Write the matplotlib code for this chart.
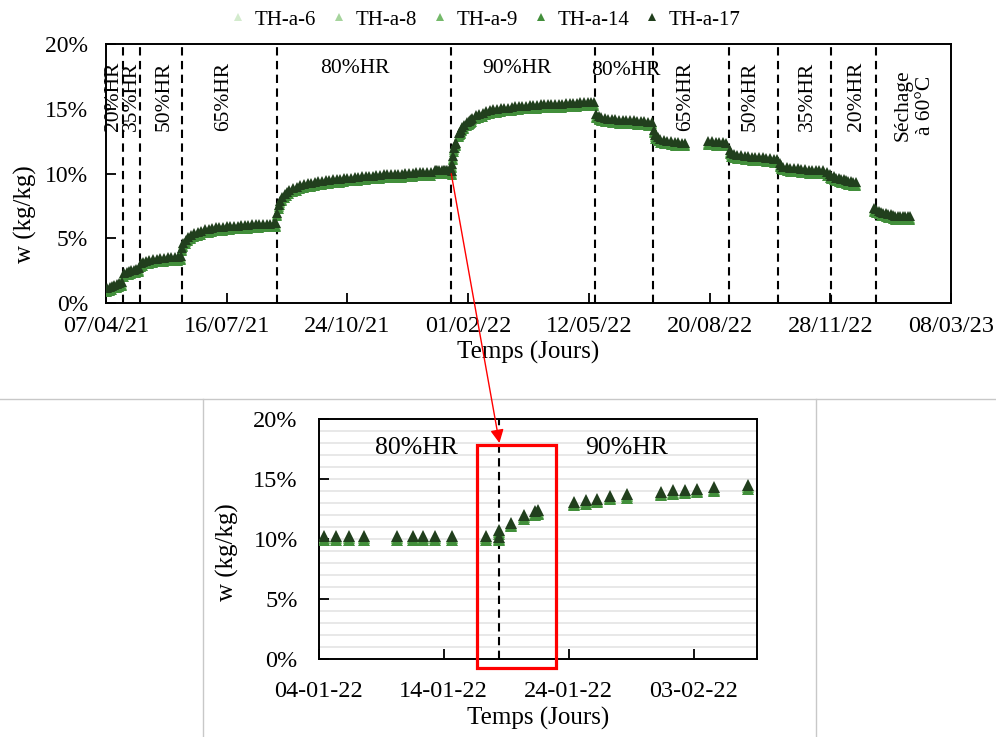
import matplotlib
matplotlib.use("Agg")
import matplotlib.pyplot as plt
import matplotlib.dates as mdates
from matplotlib.patches import Rectangle, ConnectionPatch
from matplotlib.lines import Line2D
from matplotlib.ticker import FixedLocator, MultipleLocator
import numpy as np
import pandas as pd

plt.rcParams['font.family'] = ['Liberation Serif', 'DejaVu Serif']

debut = pd.Timestamp("2021-04-07")

# jours depuis le 07/04/21 et teneur en eau w (%) lue pour TH-a-17
jours = [1, 3, 5, 7, 9, 11, 13,
         15, 17, 19, 21, 23, 25, 27,
         29, 31, 33, 36, 39, 42, 45, 48, 51, 54, 57, 60, 62,
         63, 64, 66, 68, 70, 73, 76, 79, 82, 85, 88, 91, 94, 97, 100, 103, 106, 109,
         112, 115, 118, 121, 124, 127, 130, 133, 136, 139, 141,
         142, 143, 144, 146, 148, 150, 152, 155, 158, 161, 164, 167, 170, 173, 176, 179,
         182, 185, 188, 191, 194, 197, 200, 203, 206, 209, 212, 215, 218, 221, 224, 227,
         230, 233, 236, 239, 242, 245, 248, 251, 254, 257, 260, 263, 266, 269,
         272.4, 273.4, 274.4, 275.6, 278.3, 279.6, 280.3, 281.3, 282.7, 285.4, 286.5,
         286.5, 287.4, 288.4, 289.3, 289.6, 292.4, 293.4, 294.3, 295.3, 296.7, 299.4, 300.3,
         301.3, 302.3, 303.6, 306.4, 309, 312, 315, 318, 321, 324, 327, 330, 333, 336, 339,
         342, 345, 348, 351, 354, 357, 360, 363, 366, 369, 372, 375, 378, 381, 384, 387,
         390, 393, 396, 399, 402, 404,
         406, 408, 410, 413, 416, 419, 422, 425, 428, 431, 434, 437, 440, 443, 446, 449, 452,
         454, 455, 457, 459, 462, 465, 468, 471, 474, 477, 480,
         499, 502, 505, 508, 511, 514,
         517, 518, 520, 523, 526, 529, 532, 535, 538, 541, 544, 547, 550, 553, 556,
         558, 559, 561, 564, 567, 570, 573, 576, 579, 582, 585, 588, 591, 594, 597, 600,
         601, 603, 605, 607, 609, 611, 613, 615, 617, 619, 621,
         636, 638, 640, 642, 644, 646, 648, 650, 652, 654, 656, 658, 660, 662, 664, 666]
w_17 = [1.15, 1.25, 1.35, 1.45, 1.5, 1.55, 1.65,
        2.35, 2.45, 2.5, 2.55, 2.6, 2.65, 2.7,
        3.1, 3.2, 3.3, 3.35, 3.4, 3.45, 3.5, 3.5, 3.55, 3.55, 3.6, 3.6, 3.65,
        4.3, 4.65, 4.9, 5.1, 5.25, 5.4, 5.5, 5.6, 5.7, 5.75, 5.8, 5.85, 5.9, 5.9, 5.95, 5.95, 6.0, 6.0,
        6.05, 6.05, 6.05, 6.1, 6.1, 6.1, 6.15, 6.15, 6.15, 6.2, 6.2,
        7.0, 7.6, 7.9, 8.2, 8.45, 8.6, 8.75, 8.9, 9.0, 9.1, 9.2, 9.25, 9.3, 9.35, 9.4, 9.45,
        9.5, 9.5, 9.55, 9.6, 9.6, 9.65, 9.7, 9.7, 9.75, 9.75, 9.8, 9.8, 9.85, 9.85, 9.9, 9.9,
        9.95, 9.95, 9.95, 10.0, 10.0, 10.0, 10.05, 10.05, 10.05, 10.1, 10.1, 10.1, 10.15, 10.15,
        10.25, 10.25, 10.25, 10.25, 10.25, 10.25, 10.25, 10.25, 10.25, 10.25, 10.2,
        10.75, 11.35, 12.0, 12.3, 12.4, 13.1, 13.25, 13.35, 13.6, 13.75, 13.95, 14.05,
        14.1, 14.2, 14.3, 14.5, 14.6, 14.7, 14.8, 14.9, 14.95, 15.0, 15.05, 15.1, 15.1, 15.15, 15.2,
        15.2, 15.25, 15.25, 15.3, 15.3, 15.3, 15.35, 15.35, 15.35, 15.4, 15.4, 15.4, 15.4, 15.45, 15.45, 15.45,
        15.45, 15.5, 15.5, 15.5, 15.5, 15.5,
        14.6, 14.45, 14.35, 14.3, 14.25, 14.2, 14.2, 14.15, 14.15, 14.1, 14.1, 14.1, 14.05, 14.05, 14.05, 14.0, 14.0,
        13.4, 13.0, 12.8, 12.7, 12.6, 12.55, 12.5, 12.45, 12.45, 12.4, 12.4,
        12.5, 12.5, 12.45, 12.45, 12.45, 12.4,
        11.8, 11.6, 11.5, 11.45, 11.4, 11.35, 11.35, 11.3, 11.3, 11.25, 11.25, 11.2, 11.2, 11.15, 11.15,
        10.8, 10.65, 10.55, 10.5, 10.45, 10.4, 10.4, 10.35, 10.35, 10.3, 10.3, 10.3, 10.25, 10.25, 10.15, 10.0,
        9.85, 9.8, 9.7, 9.65, 9.6, 9.55, 9.5, 9.45, 9.4, 9.35, 9.35,
        7.35, 7.25, 7.15, 7.05, 7.0, 6.95, 6.9, 6.85, 6.8, 6.75, 6.7, 6.7, 6.75, 6.7, 6.7, 6.7]

# ecart lu entre chaque eprouvette et TH-a-17 (points de %)
eprouvettes = ["TH-a-6", "TH-a-8", "TH-a-9", "TH-a-14", "TH-a-17"]
ecarts = [-0.15, -0.1, -0.2, -0.3, 0.0]
couleurs = ["#d3ebcd", "#a6d49d", "#74b96a", "#428f3b", "#213f1d"]

# changements de consigne HR
changements = ["2021-04-21", "2021-05-05", "2021-06-09", "2021-08-27", "2022-01-18",
               "2022-05-17", "2022-07-04", "2022-09-05", "2022-10-16", "2022-11-29", "2023-01-05"]
ticks_haut = ["2021-04-07", "2021-07-16", "2021-10-24", "2022-02-01",
              "2022-05-12", "2022-08-20", "2022-11-28", "2023-03-08"]

# zoom janvier - fevrier 2022
dates_zoom = ["2022-01-04 10:00", "2022-01-05 09:00", "2022-01-06 10:00", "2022-01-07 15:00",
              "2022-01-10 07:00", "2022-01-11 14:00", "2022-01-12 08:00", "2022-01-13 07:00",
              "2022-01-14 16:00", "2022-01-17 09:00", "2022-01-18 11:00", "2022-01-18 11:00",
              "2022-01-19 10:00", "2022-01-20 10:00", "2022-01-21 07:00", "2022-01-21 14:00",
              "2022-01-24 10:00", "2022-01-25 09:00", "2022-01-26 07:00", "2022-01-27 07:00",
              "2022-01-28 16:00", "2022-01-31 09:00", "2022-02-01 08:00", "2022-02-02 07:00",
              "2022-02-03 07:00", "2022-02-04 14:00", "2022-02-07 09:00"]
w_zoom = [10.25, 10.25, 10.25, 10.25, 10.25, 10.25, 10.25, 10.25, 10.25, 10.25, 10.2, 10.75,
          11.35, 12.0, 12.3, 12.4, 13.1, 13.25, 13.35, 13.6, 13.75, 13.95, 14.05, 14.1,
          14.2, 14.3, 14.5]
ticks_zoom = ["2022-01-04", "2022-01-14", "2022-01-24", "2022-02-03"]


def jour(j):
    return debut + pd.Timedelta(days=j)


W, H = 996, 737
fig = plt.figure(figsize=(W / 100, H / 100), dpi=100)

# ---- graphe principal
ax1 = fig.add_axes([106 / W, 1 - 303.3 / H, 845 / W, 259.3 / H])
x_top = debut + pd.to_timedelta(jours, unit="D")
for nom, ec, col in zip(eprouvettes, ecarts, couleurs):
    ax1.plot(x_top, np.array(w_17) + ec, ls="none", marker="^", ms=7, mew=0,
             color=col, label=nom, zorder=3)
for d in changements:
    ax1.axvline(pd.Timestamp(d), color="black", lw=1.5, dashes=(4, 2.6), zorder=2)

ax1.set_xlim(pd.Timestamp("2021-04-07"), pd.Timestamp("2023-03-08"))
ax1.set_ylim(0, 20)
ax1.xaxis.set_major_locator(FixedLocator(mdates.date2num(pd.to_datetime(ticks_haut))))
ax1.xaxis.set_major_formatter(mdates.DateFormatter("%d/%m/%y"))
ax1.set_yticks([0, 5, 10, 15, 20])
ax1.set_yticklabels(["0%", "5%", "10%", "15%", "20%"])
ax1.tick_params(axis="x", direction="in", length=7, width=1.3, labelsize=17.5, pad=9)
ax1.tick_params(axis="y", direction="in", length=7, width=1.3, labelsize=17, pad=13)
for s in ax1.spines.values():
    s.set_linewidth(1.4)
ax1.set_xlabel("Temps (Jours)", fontsize=18)
ax1.set_ylabel("w (kg/kg)", fontsize=18)
ax1.xaxis.set_label_coords(0.5, -0.145)
ax1.yaxis.set_label_coords(-0.082, 0.344)

for txt, j in [("20%HR", 5.8), ("35%HR", 20.7), ("50%HR", 48), ("65%HR", 97.8),
               ("65%HR", 480.5), ("50%HR", 533.5), ("35%HR", 580.7), ("20%HR", 622)]:
    ax1.text(jour(j), 18.65, txt, rotation=90, ha="center", va="top", fontsize=15.5)
ax1.text(jour(669.5), 15.3, "Séchage\nà 60°C", rotation=90, ha="center", va="center",
         multialignment="center", fontsize=15.5)
for txt, j, y in [("80%HR", 206, 18.1), ("90%HR", 340.5, 18.1), ("80%HR", 431, 17.95)]:
    ax1.text(jour(j), y, txt, ha="center", va="center", fontsize=15.5)

fig.legend(loc="center", bbox_to_anchor=(0.487, 1 - 20 / H), ncol=5, frameon=False,
           fontsize=15, handlelength=0.8, handletextpad=0.4, columnspacing=0.7,
           markerscale=0.8)

# ---- zoom
ax2 = fig.add_axes([318.6 / W, 1 - 659 / H, 438.2 / W, 240 / H])
x_zoom = pd.to_datetime(dates_zoom)
for nom, ec, col in zip(eprouvettes, ecarts, couleurs):
    ax2.plot(x_zoom, np.array(w_zoom) + ec, ls="none", marker="^", ms=8.5, mew=0,
             color=col, zorder=3)
ax2.axvline(pd.Timestamp("2022-01-18 11:00"), color="black", lw=1.5, dashes=(4, 2.6), zorder=2)
ax2.set_xlim(pd.Timestamp("2022-01-04"), pd.Timestamp("2022-02-08 01:00"))
ax2.set_ylim(0, 20)
ax2.xaxis.set_major_locator(FixedLocator(mdates.date2num(pd.to_datetime(ticks_zoom))))
ax2.xaxis.set_major_formatter(mdates.DateFormatter("%d-%m-%y"))
ax2.set_yticks([0, 5, 10, 15, 20])
ax2.set_yticklabels(["0%", "5%", "10%", "15%", "20%"])
ax2.yaxis.set_minor_locator(MultipleLocator(1))
ax2.grid(which="both", axis="y", color="#e8e8e8", lw=1.4, zorder=0)
ax2.set_axisbelow(True)
ax2.tick_params(axis="x", direction="in", length=7, width=1.3, labelsize=17.5, pad=16)
ax2.tick_params(axis="y", direction="in", length=7, width=1.3, labelsize=17.5, pad=15)
ax2.tick_params(which="minor", length=0)
for s in ax2.spines.values():
    s.set_linewidth(1.4)
ax2.set_xlabel("Temps (Jours)", fontsize=18)
ax2.set_ylabel("w (kg/kg)", fontsize=18)
ax2.xaxis.set_label_coords(0.5, -0.2)
ax2.yaxis.set_label_coords(-0.182, 0.446)
ax2.text(pd.Timestamp("2022-01-11 19:00"), 17.6, "80%HR", ha="center", va="center", fontsize=18.5)
ax2.text(pd.Timestamp("2022-01-28 16:00"), 17.6, "90%HR", ha="center", va="center", fontsize=18.5)

# cadre rouge et fleche
x0 = mdates.date2num(pd.Timestamp("2022-01-16 16:00"))
x1 = mdates.date2num(pd.Timestamp("2022-01-23 00:00"))
ax2.add_patch(Rectangle((x0, -0.75), x1 - x0, 18.55, fill=False, ec="red", lw=2.3,
                        clip_on=False, zorder=5))
fleche = ConnectionPatch(xyA=(mdates.date2num(jour(286)), 10.0), coordsA=ax1.transData,
                         xyB=(mdates.date2num(pd.Timestamp("2022-01-18 11:00")), 18.0),
                         coordsB=ax2.transData, arrowstyle="-|>", mutation_scale=20,
                         color="red", lw=1.0, zorder=6)
fig.add_artist(fleche)

# bordures du tableau
gris = "#c8c8c8"
fig.add_artist(Line2D([0, 1], [1 - 399 / H, 1 - 399 / H], color=gris, lw=1.0))
fig.add_artist(Line2D([203 / W, 203 / W], [0, 1 - 399 / H], color=gris, lw=1.0))
fig.add_artist(Line2D([815.5 / W, 815.5 / W], [0, 1 - 399 / H], color=gris, lw=1.0))

fig.savefig("out.png", dpi=100)
